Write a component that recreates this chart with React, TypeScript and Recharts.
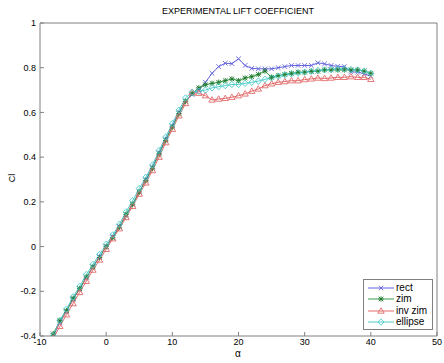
import { Line, LineChart, XAxis, YAxis } from "recharts"

const alphas = [
  -8, -7, -6, -5, -4, -3, -2, -1, 0, 1, 2, 3, 4, 5, 6, 7, 8, 9, 10, 11, 12, 13, 14, 15, 16,
  17, 18, 19, 20, 21, 22, 23, 24, 25, 26, 27, 28, 29, 30, 31, 32, 33, 34, 35, 36, 37, 38, 39, 40,
]

const rect = [
  -0.4, -0.34, -0.29, -0.235, -0.19, -0.14, -0.09, -0.045, 0.0, 0.045, 0.09, 0.14, 0.19, 0.245,
  0.3, 0.355, 0.42, 0.48, 0.54, 0.6, 0.65, 0.68, 0.7, 0.735, 0.775, 0.805, 0.82, 0.818, 0.84,
  0.81, 0.797, 0.795, 0.795, 0.795, 0.8, 0.805, 0.81, 0.81, 0.81, 0.81, 0.822, 0.817, 0.81,
  0.806, 0.805, 0.782, 0.78, 0.773, 0.762,
]

const zim = [
  -0.39, -0.332, -0.287, -0.232, -0.188, -0.136, -0.091, -0.049, 0.0, 0.04, 0.087, 0.144, 0.189,
  0.244, 0.296, 0.35, 0.415, 0.475, 0.535, 0.595, 0.65, 0.685, 0.71, 0.724, 0.73, 0.735, 0.742,
  0.75, 0.742, 0.754, 0.76, 0.77, 0.785, 0.757, 0.765, 0.77, 0.775, 0.78, 0.78, 0.784, 0.784,
  0.79, 0.79, 0.79, 0.79, 0.79, 0.79, 0.785, 0.775,
]

const invZim = [
  -0.41, -0.357, -0.305, -0.255, -0.205, -0.155, -0.105, -0.06, -0.012, 0.035, 0.08, 0.13, 0.18,
  0.235, 0.285, 0.34, 0.4, 0.465, 0.525, 0.585, 0.64, 0.69, 0.686, 0.675, 0.656, 0.66, 0.663,
  0.668, 0.675, 0.683, 0.695, 0.705, 0.72, 0.728, 0.735, 0.738, 0.742, 0.742, 0.747, 0.75,
  0.754, 0.752, 0.754, 0.757, 0.757, 0.76, 0.757, 0.757, 0.748,
]

const ellipse = [
  -0.4, -0.33, -0.28, -0.225, -0.178, -0.125, -0.08, -0.035, 0.01, 0.052, 0.1, 0.155, 0.205,
  0.26, 0.31, 0.365, 0.43, 0.49, 0.55, 0.61, 0.665, 0.69, 0.695, 0.7, 0.71, 0.715, 0.72, 0.725,
  0.725, 0.73, 0.735, 0.74, 0.748, 0.755, 0.762, 0.768, 0.772, 0.776, 0.78, 0.784, 0.788, 0.79,
  0.792, 0.795, 0.795, 0.792, 0.79, 0.785, 0.775,
]

const xTicks = [-10, 0, 10, 20, 30, 40, 50]
const yTicks = [-0.4, -0.2, 0, 0.2, 0.4, 0.6, 0.8, 1]

const data = alphas.map((a, i) => ({
  alpha: a,
  rect: rect[i],
  zim: zim[i],
  invZim: invZim[i],
  ellipse: ellipse[i],
}))

const series = [
  { key: "rect", name: "rect", color: "#6262dc", marker: "x" },
  { key: "zim", name: "zim", color: "#3a9a48", marker: "star" },
  { key: "invZim", name: "inv zim", color: "#e26a6a", marker: "tri" },
  { key: "ellipse", name: "ellipse", color: "#50cccc", marker: "diamond" },
]

const axisColor = "#808080"
const font = "Liberation Sans, Arial, sans-serif"

function Marker({ cx, cy, type, color }: { cx: number; cy: number; type: string; color: string }) {
  const s = 2.3
  if (type === "x") {
    return (
      <g stroke={color} strokeWidth={0.9}>
        <line x1={cx - s} y1={cy - s} x2={cx + s} y2={cy + s} />
        <line x1={cx - s} y1={cy + s} x2={cx + s} y2={cy - s} />
      </g>
    )
  }
  if (type === "star") {
    return (
      <g stroke="#1f7a2c" strokeWidth={0.9}>
        <line x1={cx - s} y1={cy - s} x2={cx + s} y2={cy + s} />
        <line x1={cx - s} y1={cy + s} x2={cx + s} y2={cy - s} />
        <line x1={cx - s - 0.4} y1={cy} x2={cx + s + 0.4} y2={cy} />
        <line x1={cx} y1={cy - s - 0.4} x2={cx} y2={cy + s + 0.4} />
      </g>
    )
  }
  if (type === "tri") {
    return (
      <polygon
        points={`${cx},${cy - 3.2} ${cx - 3.2},${cy + 2.2} ${cx + 3.2},${cy + 2.2}`}
        fill="none"
        stroke={color}
        strokeWidth={0.9}
      />
    )
  }
  return (
    <polygon
      points={`${cx},${cy - 3.2} ${cx + 3},${cy} ${cx},${cy + 3.2} ${cx - 3},${cy}`}
      fill="none"
      stroke={color}
      strokeWidth={0.9}
    />
  )
}

function LegendBox() {
  return (
    <div
      style={{
        position: "absolute",
        left: 363,
        top: 279,
        width: 70,
        height: 51,
        border: `1px solid ${axisColor}`,
        background: "#fff",
        boxSizing: "border-box",
        padding: "2px 0 0 3px",
        fontFamily: font,
        fontSize: 10,
        color: "#000",
      }}
    >
      {series.map((s) => (
        <div key={s.key} style={{ display: "flex", alignItems: "center", height: 11.5 }}>
          <svg width={28} height={10} style={{ marginRight: 1 }}>
            <line x1={1} y1={5} x2={27} y2={5} stroke={s.color} strokeWidth={1} />
            <Marker cx={14} cy={5} type={s.marker} color={s.color} />
          </svg>
          <span style={{ lineHeight: "10px" }}>{s.name}</span>
        </div>
      ))}
    </div>
  )
}

export default function App() {
  const tickStyle = { fontSize: 9, fill: "#000", fontFamily: font }
  return (
    <div style={{ position: "relative", width: 444, height: 363, background: "#fff" }}>
      <style>{`body{margin:0}`}</style>
      <LineChart
        width={444}
        height={363}
        data={data}
        margin={{ top: 22, right: 6, left: 0, bottom: 0 }}
      >
        <XAxis
          dataKey="alpha"
          type="number"
          domain={[-10, 50]}
          ticks={xTicks}
          height={27}
          tickSize={-4}
          tickMargin={7}
          stroke={axisColor}
          tick={tickStyle}
        />
        <XAxis
          xAxisId="top"
          orientation="top"
          type="number"
          domain={[-10, 50]}
          ticks={xTicks}
          height={1}
          tickSize={-4}
          tick={false}
          stroke={axisColor}
        />
        <YAxis
          type="number"
          domain={[-0.4, 1]}
          ticks={yTicks}
          allowDataOverflow
          width={40}
          tickSize={-4}
          tickMargin={8}
          stroke={axisColor}
          tick={tickStyle}
        />
        <YAxis
          yAxisId="right"
          orientation="right"
          type="number"
          domain={[-0.4, 1]}
          ticks={yTicks}
          width={1}
          tickSize={-4}
          tick={false}
          stroke={axisColor}
        />
        {series.map((s) => (
          <Line
            key={s.key}
            dataKey={s.key}
            name={s.name}
            stroke={s.color}
            strokeWidth={1}
            isAnimationActive={false}
            dot={(p: any) => (
              <Marker key={`${s.key}-${p.index}`} cx={p.cx} cy={p.cy} type={s.marker} color={s.color} />
            )}
            activeDot={false}
          />
        ))}
      </LineChart>
      <LegendBox />
      <div
        style={{
          position: "absolute",
          left: 88,
          width: 300,
          top: 6,
          textAlign: "center",
          fontFamily: font,
          fontSize: 9,
          lineHeight: "11px",
        }}
      >
        EXPERIMENTAL LIFT COEFFICIENT
      </div>
      <div
        style={{
          position: "absolute",
          left: 0,
          top: 172,
          width: 24,
          textAlign: "center",
          fontFamily: font,
          fontSize: 9,
          lineHeight: "12px",
          transform: "rotate(-90deg)",
        }}
      >
        Cl
      </div>
      <div
        style={{
          position: "absolute",
          left: 228,
          top: 348,
          width: 20,
          textAlign: "center",
          fontFamily: font,
          fontSize: 10,
          lineHeight: "12px",
        }}
      >
        α
      </div>
    </div>
  )
}
